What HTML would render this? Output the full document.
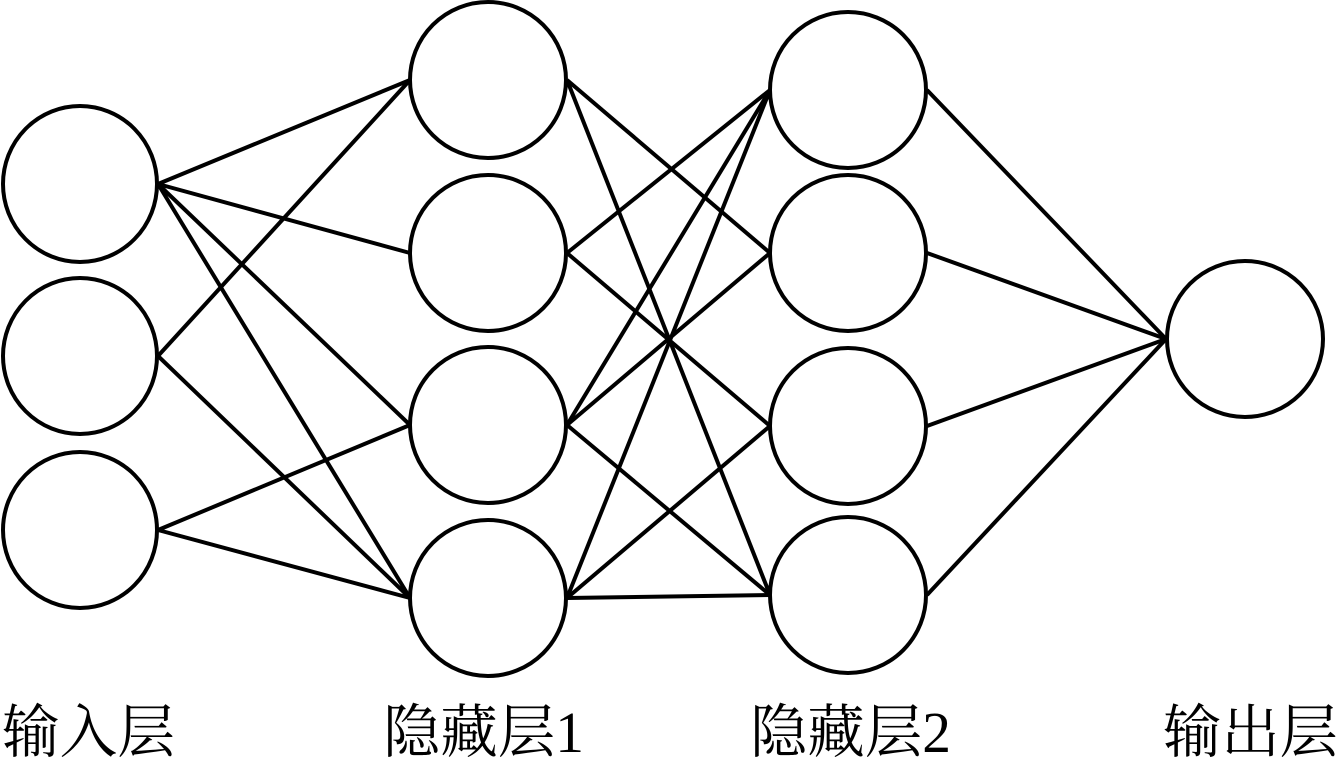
<!DOCTYPE html>
<html><head><meta charset="utf-8"><style>html,body{margin:0;padding:0;background:#fff;}svg{display:block}</style></head>
<body>
<svg width="1342" height="768" viewBox="0 0 1342 768" xmlns="http://www.w3.org/2000/svg">
<g stroke="#000" stroke-width="4" fill="none">
<!-- input -> hidden1 -->
<line x1="158" y1="184" x2="410" y2="80"/>
<line x1="158" y1="184" x2="410" y2="253"/>
<line x1="158" y1="184" x2="410" y2="425"/>
<line x1="158" y1="184" x2="410" y2="598"/>
<line x1="158" y1="356" x2="410" y2="80"/>
<line x1="158" y1="356" x2="410" y2="598"/>
<line x1="158" y1="530" x2="410" y2="425"/>
<line x1="158" y1="530" x2="410" y2="598"/>
<!-- hidden1 -> hidden2 -->
<line x1="567" y1="80" x2="770" y2="253"/>
<line x1="567" y1="80" x2="770" y2="595"/>
<line x1="567" y1="253" x2="770" y2="90"/>
<line x1="567" y1="253" x2="770" y2="426"/>
<line x1="567" y1="425" x2="770" y2="90"/>
<line x1="567" y1="425" x2="770" y2="253"/>
<line x1="567" y1="425" x2="770" y2="595"/>
<line x1="567" y1="598" x2="770" y2="90"/>
<line x1="567" y1="598" x2="770" y2="426"/>
<line x1="567" y1="598" x2="770" y2="595"/>
<!-- hidden2 -> output -->
<line x1="927" y1="90" x2="1166" y2="339"/>
<line x1="927" y1="253" x2="1166" y2="339"/>
<line x1="927" y1="426" x2="1166" y2="339"/>
<line x1="927" y1="595" x2="1166" y2="339"/>
</g>
<g stroke="#000" stroke-width="4" fill="#fff">
<ellipse cx="80" cy="184" rx="77" ry="78"/>
<ellipse cx="80" cy="356" rx="77" ry="78"/>
<ellipse cx="80" cy="530" rx="77" ry="78"/>
<ellipse cx="488" cy="80" rx="78" ry="78"/>
<ellipse cx="488" cy="253" rx="78" ry="78"/>
<ellipse cx="488" cy="425" rx="78" ry="78"/>
<ellipse cx="488" cy="598" rx="78" ry="78"/>
<ellipse cx="848" cy="90" rx="78" ry="78"/>
<ellipse cx="848" cy="253" rx="78" ry="78"/>
<ellipse cx="848" cy="426" rx="78" ry="78"/>
<ellipse cx="848" cy="595" rx="78" ry="78"/>
<ellipse cx="1245" cy="339" rx="78" ry="78"/>
</g>
<g font-family="'Liberation Serif','Noto Serif CJK SC',serif" font-size="58" fill="#000">
<text x="2" y="752" textLength="173" lengthAdjust="spacingAndGlyphs">输入层</text>
<text x="383" y="752" textLength="201" lengthAdjust="spacingAndGlyphs">隐藏层1</text>
<text x="750" y="752" textLength="201" lengthAdjust="spacingAndGlyphs">隐藏层2</text>
<text x="1163" y="752" textLength="175" lengthAdjust="spacingAndGlyphs">输出层</text>
</g>
</svg>
</body></html>
